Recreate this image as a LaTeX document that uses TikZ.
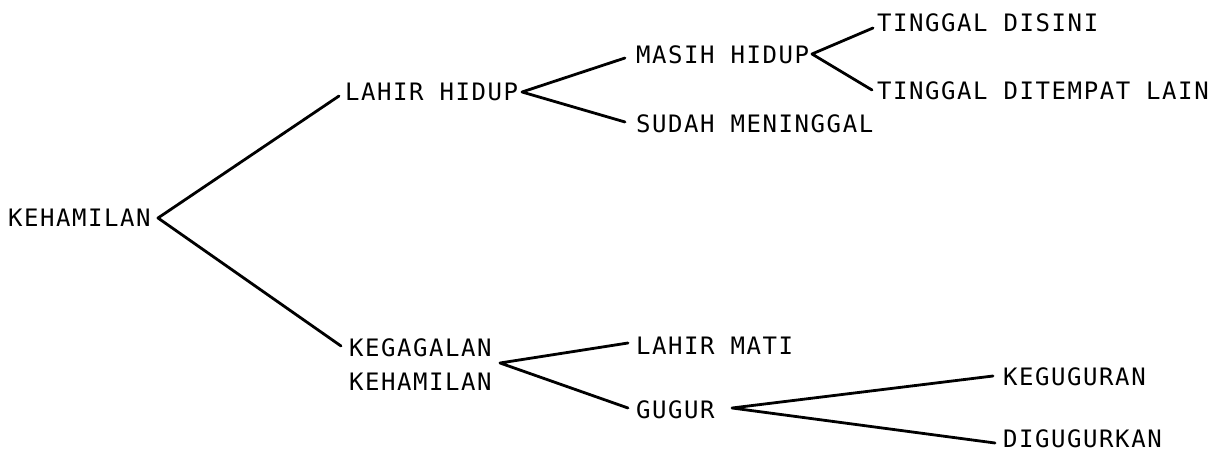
\documentclass[tikz,border=0pt]{standalone}
\usepackage{fontspec}
\setmonofont[LetterSpace=6.5]{DejaVu Sans Mono}
\begin{document}
\begin{tikzpicture}[x=1pt,y=-1pt,
  lbl/.style={anchor=west,inner sep=0pt,font=\ttfamily\fontsize{24}{34}\selectfont},
  lbl2/.style={anchor=north west,inner sep=0pt,align=left,font=\ttfamily\fontsize{24}{34}\selectfont},
  branch/.style={line width=2.8pt,line cap=round,line join=round}]
\useasboundingbox (0,0) rectangle (1217,454);

% labels
\node[lbl] (keh)  at (8,218)    {KEHAMILAN};
\node[lbl] (lh)   at (345,92)   {LAHIR HIDUP};
\node[lbl2] (kg)  at (349,338.5) {KEGAGALAN\\KEHAMILAN};
\node[lbl] (mh)   at (636,55)   {MASIH HIDUP};
\node[lbl] (sm)   at (636,124)  {SUDAH MENINGGAL};
\node[lbl] (lm)   at (636,346)  {LAHIR MATI};
\node[lbl] (gg)   at (636,410)  {GUGUR};
\node[lbl] (td)   at (877,23)   {TINGGAL DISINI};
\node[lbl] (tl)   at (877,91)   {TINGGAL DITEMPAT LAIN};
\node[lbl] (kgu)  at (1003,377) {KEGUGURAN};
\node[lbl] (dig)  at (1003,439) {DIGUGURKAN};

% branching points and line ends
\coordinate (j0) at (158,218);
\coordinate (j0a) at (339,96);
\coordinate (j0b) at (341,346);
\coordinate (j1) at (522,92);
\coordinate (j1a) at (625,58);
\coordinate (j1b) at (625,122);
\coordinate (j2) at (812,54);
\coordinate (j2a) at (873,28);
\coordinate (j2b) at (872,90);
\coordinate (j3) at (500,363);
\coordinate (j3a) at (628,343);
\coordinate (j3b) at (628,408);
\coordinate (j4) at (732,408);
\coordinate (j4a) at (993,376);
\coordinate (j4b) at (995,443);

% branches
\draw[branch] (j0a) -- (j0) -- (j0b);
\draw[branch] (j1a) -- (j1) -- (j1b);
\draw[branch] (j2a) -- (j2) -- (j2b);
\draw[branch] (j3a) -- (j3) -- (j3b);
\draw[branch] (j4a) -- (j4) -- (j4b);
\end{tikzpicture}
\end{document}
